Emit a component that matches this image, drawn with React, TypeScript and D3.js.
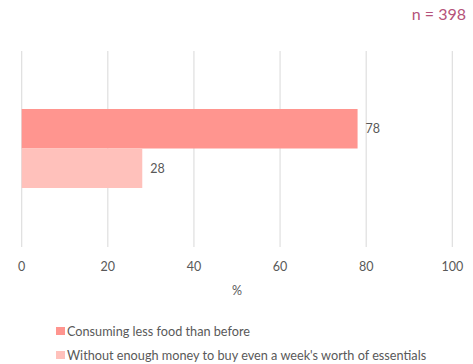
import React from "react";
import * as d3 from "d3";

const categories = ["Consuming less food than before", "Without enough money to buy even a week's worth of essentials"];
const values = [78, 28];
const colors = ["#FF958F", "#FFC1BB"];
const xTicks = [0, 20, 40, 60, 80, 100];
const sampleLabel = "n = 398";
const axisTitle = "%";

export default function App() {
  const W = 473, H = 364;
  const x = d3.scaleLinear().domain([0, 100]).range([21.7, 452.3]);
  const y = d3.scaleBand().domain(categories).range([109, 188]).padding(0);
  const font = "Lato, 'Open Sans', sans-serif";
  const textColor = "#595959";
  return (
    <svg width={W} height={H} style={{ position: "absolute", left: 0, top: 0, fontFamily: font }}>
      <rect width={W} height={H} fill="#fff" />
      <text x={466} y={20} textAnchor="end" fill="#B5527A" fontSize={16}>{sampleLabel}</text>
      {xTicks.map((t) => (
        <line key={t} x1={x(t)} x2={x(t)} y1={51} y2={247} stroke="#DCDCDC" strokeWidth={1.1} />
      ))}
      {categories.map((c, i) => (
        <g key={c}>
          <rect x={x(0)} y={y(c)!} width={x(values[i]) - x(0)} height={y.bandwidth()} fill={colors[i]} />
          <text x={x(values[i]) + 8} y={y(c)! + y.bandwidth() / 2} dominantBaseline="central" fontSize={12.5} fill={textColor}>{values[i]}</text>
        </g>
      ))}
      {xTicks.map((t) => (
        <text key={"l" + t} x={x(t)} y={266} textAnchor="middle" dominantBaseline="central" fontSize={12.5} fill={textColor}>{t}</text>
      ))}
      <text x={237} y={290} textAnchor="middle" dominantBaseline="central" fontSize={12.5} fill={textColor}>{axisTitle}</text>
      {categories.map((c, i) => (
        <g key={"lg" + c}>
          <rect x={56} y={327 + i * 24} width={9} height={8} fill={colors[i]} />
          <text x={67} y={331 + i * 24} dominantBaseline="central" fontSize={12.7} fill={textColor}>{c}</text>
        </g>
      ))}
    </svg>
  );
}
